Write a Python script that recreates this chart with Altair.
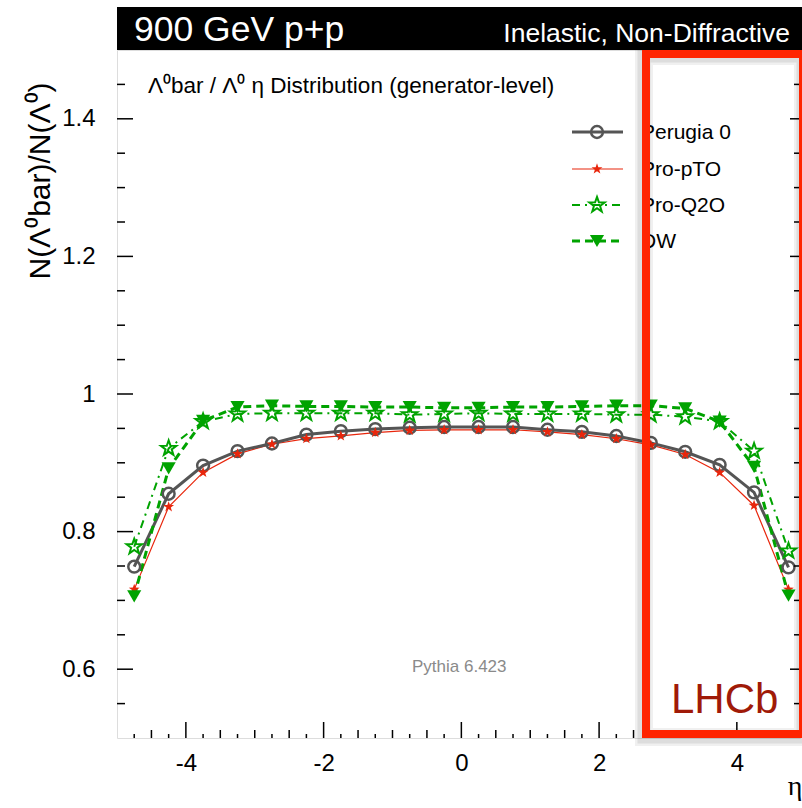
import altair as alt
import pandas as pd

# ---------------- data ----------------
eta = [-4.75, -4.25, -3.75, -3.25, -2.75, -2.25, -1.75, -1.25, -0.75, -0.25,
       0.25, 0.75, 1.25, 1.75, 2.25, 2.75, 3.25, 3.75, 4.25, 4.75]
perugia0 = [0.749, 0.855, 0.896, 0.917, 0.928, 0.941, 0.946, 0.949, 0.951, 0.952,
            0.952, 0.952, 0.948, 0.945, 0.939, 0.929, 0.916, 0.897, 0.857, 0.748]
pro_pto = [0.716, 0.836, 0.886, 0.913, 0.927, 0.935, 0.939, 0.944, 0.947, 0.948,
           0.948, 0.948, 0.945, 0.941, 0.935, 0.926, 0.912, 0.886, 0.838, 0.716]
pro_q2o = [0.778, 0.921, 0.960, 0.971, 0.972, 0.972, 0.972, 0.972, 0.970, 0.971,
           0.972, 0.971, 0.971, 0.971, 0.970, 0.970, 0.967, 0.960, 0.917, 0.772]
dw = [0.706, 0.892, 0.961, 0.981, 0.983, 0.982, 0.982, 0.981, 0.981, 0.980,
      0.980, 0.981, 0.981, 0.982, 0.983, 0.983, 0.979, 0.960, 0.894, 0.707]

series_names = ["Perugia 0", "Pro-pTO", "Pro-Q2O", "DW"]
x_tick_labels = [-4, -2, 0, 2, 4]
y_tick_labels = [0.6, 0.8, 1.0, 1.2, 1.4]
x_medium_ticks = [-4.5, -3.5, -3.0, -2.5, -1.5, -1.0, -0.5, 0.5, 1.0, 1.5, 2.5, 3.0, 3.5, 4.5]
x_small_ticks = [-4.75, -4.25, -3.75, -3.25, -2.75, -2.25, -1.75, -1.25, -0.75, -0.25,
                 0.25, 0.75, 1.25, 1.75, 2.25, 2.75, 3.25, 3.75, 4.25, 4.75]
y_minor_ticks = [0.55, 0.65, 0.7, 0.75, 0.85, 0.9, 0.95, 1.05, 1.1, 1.15,
                 1.25, 1.3, 1.35, 1.45]

title_left = "900 GeV p+p"
title_right = "Inelastic, Non-Diffractive"
subtitle = "Λ⁰bar / Λ⁰ η Distribution (generator-level)"
y_title = "N(Λ⁰bar)/N(Λ⁰)"
x_title = "η"
generator_note = "Pythia 6.423"
experiment = "LHCb"

# ---------------- layout ----------------
W, H = 683, 688
FONT = "Liberation Sans"
GREEN = "#00a300"

xscale = alt.Scale(domain=[-5, 4.917], nice=False, zero=False)
yscale = alt.Scale(domain=[0.5, 1.5], nice=False, zero=False)
xaxis = alt.Axis(values=x_tick_labels, ticks=False, tickSize=0, domain=False, grid=False,
                 labelFontSize=24, labelFont=FONT, labelColor="black", labelPadding=13,
                 labelExpr="'' + datum.value", title=None, labelFlush=False)
yaxis = alt.Axis(values=y_tick_labels, ticks=False, tickSize=0, domain=False, grid=False,
                 labelFontSize=24, labelFont=FONT, labelColor="black", labelPadding=22,
                 labelExpr="'' + datum.value", title=None)

X = alt.X("x:Q", scale=xscale, axis=xaxis)
Y = alt.Y("y:Q", scale=yscale, axis=yaxis)

one = pd.DataFrame({"k": [0]})


def series_df(vals):
    return pd.DataFrame({"x": eta, "y": vals})


layers = []

# lines
layers.append(alt.Chart(series_df(pro_pto)).mark_line(color="#e8260c", strokeWidth=1.2).encode(x=X, y=Y))
layers.append(alt.Chart(series_df(perugia0)).mark_line(color="#555555", strokeWidth=3).encode(x=X, y=Y))
layers.append(alt.Chart(series_df(pro_q2o)).mark_line(color=GREEN, strokeWidth=2, strokeDash=[8, 5, 2, 5]).encode(x=X, y=Y))
layers.append(alt.Chart(series_df(dw)).mark_line(color=GREEN, strokeWidth=3, strokeDash=[8, 5]).encode(x=X, y=Y))

STAR = "M0,-1L0.235,-0.324L0.951,-0.309L0.380,0.124L0.588,0.809L0,0.4L-0.588,0.809L-0.380,0.124L-0.951,-0.309L-0.235,-0.324Z"

marker_styles = [
    dict(shape="circle", size=140, filled=False, color="#555555", strokeWidth=2.5),
    dict(shape=STAR, size=130, filled=True, color="#e8260c", strokeWidth=0.5),
    dict(shape=STAR, size=260, filled=False, color=GREEN, strokeWidth=2),
    dict(shape="triangle-down", size=200, filled=True, color=GREEN, strokeWidth=0.5),
]
series_vals = [perugia0, pro_pto, pro_q2o, dw]
for vals, st in zip(series_vals, marker_styles):
    layers.append(alt.Chart(series_df(vals)).mark_point(opacity=1, **st).encode(x=X, y=Y))

# ticks (inside, ROOT style)
def xticks(vals, length):
    return alt.Chart(pd.DataFrame({"x": vals})).mark_rule(color="black", strokeWidth=1.5).encode(
        x=X, y=alt.value(H), y2=alt.value(H - length))


def yticks_left(vals, length):
    return alt.Chart(pd.DataFrame({"y": vals})).mark_rule(color="black", strokeWidth=1.5).encode(
        y=Y, x=alt.value(0), x2=alt.value(length))


def yticks_right(vals, length):
    return alt.Chart(pd.DataFrame({"y": vals})).mark_rule(color="black", strokeWidth=1.5).encode(
        y=Y, x=alt.value(W), x2=alt.value(W - length))


layers += [xticks(x_tick_labels, 16), xticks(x_medium_ticks, 8), xticks(x_small_ticks, 4),
           yticks_left(y_tick_labels, 16), yticks_left(y_minor_ticks, 8),
           yticks_right(y_tick_labels, 10), yticks_right(y_minor_ticks, 6)]

# legend
legend_y = [82, 119, 155, 191]
line_styles = [
    dict(color="#555555", strokeWidth=3),
    dict(color="#e8260c", strokeWidth=1.2),
    dict(color=GREEN, strokeWidth=2, strokeDash=[8, 5, 2, 5]),
    dict(color=GREEN, strokeWidth=3, strokeDash=[8, 5]),
]
for name, ly, ls, ms in zip(series_names, legend_y, line_styles, marker_styles):
    layers.append(alt.Chart(one).mark_rule(**ls).encode(
        x=alt.value(455), x2=alt.value(506), y=alt.value(ly)))
    layers.append(alt.Chart(one).mark_point(opacity=1, **ms).encode(
        x=alt.value(480), y=alt.value(ly)))
    layers.append(alt.Chart(pd.DataFrame({"t": [name]})).mark_text(
        font=FONT, fontSize=21, align="left", baseline="middle", color="black").encode(
        text="t:N", x=alt.value(524), y=alt.value(ly + 1)))

# texts inside the plot
layers.append(alt.Chart(pd.DataFrame({"t": [subtitle]})).mark_text(
    font=FONT, fontSize=22.5, align="left", baseline="alphabetic", color="black").encode(
    text="t:N", x=alt.value(31), y=alt.value(43)))
layers.append(alt.Chart(pd.DataFrame({"t": [generator_note]})).mark_text(
    font=FONT, fontSize=17, align="left", baseline="alphabetic", color="#8a8a8a").encode(
    text="t:N", x=alt.value(295), y=alt.value(622)))

# LHCb box with shadow
for sw, op in [(18, 0.06), (13, 0.08)]:
    layers.append(alt.Chart(one).mark_rect(fillOpacity=0, stroke="black", strokeOpacity=op, strokeWidth=sw).encode(
        x=alt.value(527), x2=alt.value(686), y=alt.value(6), y2=alt.value(687)))
layers.append(alt.Chart(one).mark_rect(fillOpacity=0, stroke="#ff2400", strokeWidth=8).encode(
    x=alt.value(529), x2=alt.value(686), y=alt.value(4), y2=alt.value(684)))
layers.append(alt.Chart(pd.DataFrame({"t": [experiment]})).mark_text(
    font=FONT, fontSize=42, align="left", baseline="alphabetic", color="#a01a08").encode(
    text="t:N", x=alt.value(554), y=alt.value(663)))

# black title bar
layers.append(alt.Chart(one).mark_rect(color="black").encode(
    x=alt.value(0), x2=alt.value(700), y=alt.value(-43), y2=alt.value(0)))
layers.append(alt.Chart(pd.DataFrame({"t": [title_left]})).mark_text(
    font=FONT, fontSize=35.5, align="left", baseline="alphabetic", color="white").encode(
    text="t:N", x=alt.value(17), y=alt.value(-9)))
layers.append(alt.Chart(pd.DataFrame({"t": [title_right]})).mark_text(
    font=FONT, fontSize=26.5, align="right", baseline="alphabetic", color="white").encode(
    text="t:N", x=alt.value(673), y=alt.value(-8)))

# axis titles
layers.append(alt.Chart(pd.DataFrame({"t": [y_title]})).mark_text(
    font=FONT, fontSize=30, align="center", baseline="middle", angle=270, color="black").encode(
    text="t:N", x=alt.value(-76), y=alt.value(131)))
layers.append(alt.Chart(pd.DataFrame({"t": [x_title]})).mark_text(
    font="Liberation Serif", fontSize=28, align="center", baseline="alphabetic", color="black").encode(
    text="t:N", x=alt.value(678), y=alt.value(107 + H - 50)))

chart = alt.layer(*layers).properties(
    width=W, height=H,
    autosize=alt.AutoSizeParams(type="none"),
    padding={"left": 117, "top": 50, "right": 2, "bottom": 70},
).configure_view(stroke="black", strokeWidth=2).configure(background="white")

chart.save("out.html", embed_options={"renderer": "svg", "actions": False})
